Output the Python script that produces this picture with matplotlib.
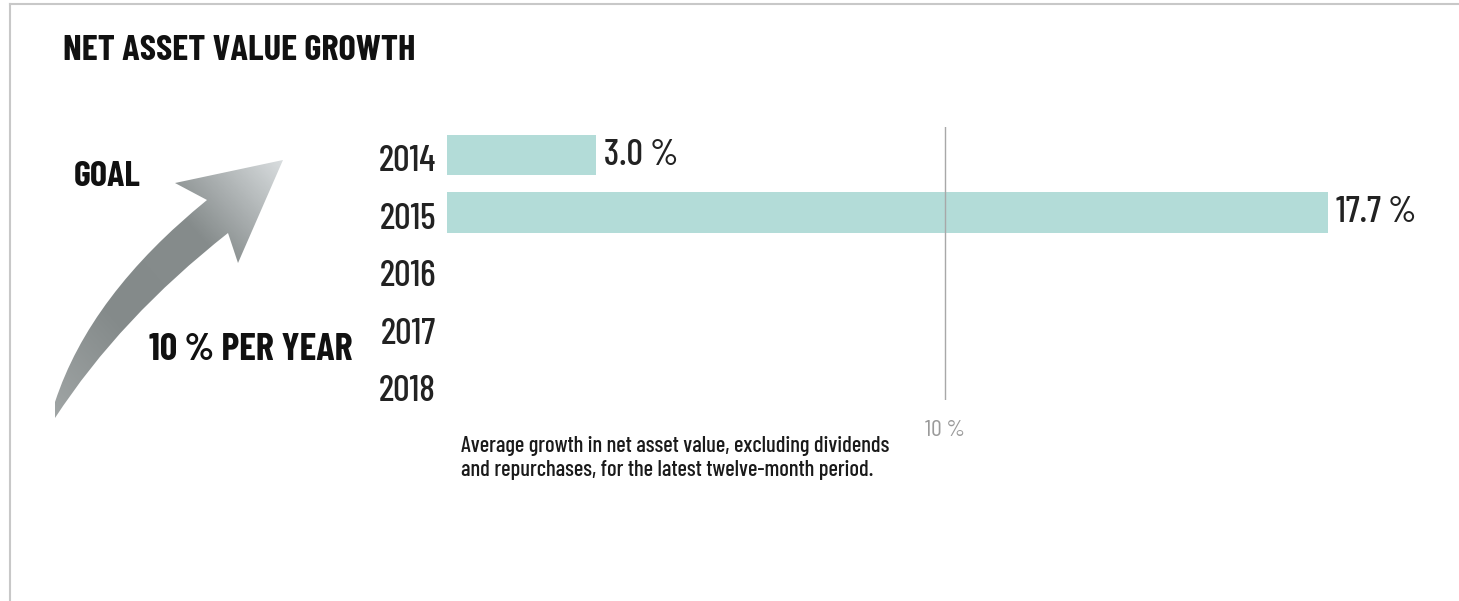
import numpy as np
import matplotlib
matplotlib.use('Agg')
import matplotlib.pyplot as plt
from matplotlib import font_manager
from matplotlib.path import Path
from matplotlib.patches import PathPatch
from matplotlib.colors import LinearSegmentedColormap
from matplotlib.transforms import offset_copy, ScaledTranslation

# data
years = ['2014', '2015', '2016', '2017', '2018']
growth = [3.0, 17.7, None, None, None]
goal = 10.0
title = 'NET ASSET VALUE GROWTH'
goal_top = 'GOAL'
goal_bottom = '10 % PER YEAR'
note = ['Average growth in net asset value, excluding dividends',
        'and repurchases, for the latest twelve-month period.']

W, H = 1459, 601

names = {f.name for f in font_manager.fontManager.ttflist}


def pick(cands):
    for c in cands:
        if c in names:
            return c
    return 'DejaVu Sans'


narrow = pick(['Barlow Condensed', 'Roboto Condensed', 'Fira Sans Condensed'])
plt.rcParams['font.family'] = narrow
REG = 500  # a touch heavier than regular, like the original

fig = plt.figure(figsize=(W / 100, H / 100), dpi=100)
renderer = fig.canvas.get_renderer()


def size_for(s, width, weight=REG):
    # font size that makes the string span the wanted width in pixels
    t = fig.text(0.5, 0.5, s, fontsize=20, family=narrow, fontweight=weight)
    w = t.get_window_extent(renderer).width
    t.remove()
    if w < 1:
        return 20
    return float(np.clip(20 * width / w, 6, 40))


# overlay in pixel coordinates for frame, arrow and free text
oax = fig.add_axes([0, 0, 1, 1], zorder=0)
oax.set_xlim(0, W)
oax.set_ylim(H, 0)
oax.axis('off')

# frame (top and left only)
oax.plot([10, W], [4, 4], color='#c8c8c8', lw=1.5)
oax.plot([10, 10], [4, H], color='#c8c8c8', lw=1.5)

# curved arrow with gradient
verts = [(55, 418), (55, 402), (90, 295), (207, 200), (175, 183), (283, 160),
         (238, 263), (228, 233), (120, 318), (55, 418)]
codes = [Path.MOVETO, Path.LINETO, Path.CURVE3, Path.CURVE3, Path.LINETO, Path.LINETO,
         Path.LINETO, Path.LINETO, Path.CURVE3, Path.CURVE3]
arrow = PathPatch(Path(verts, codes), facecolor='none', edgecolor='none')
oax.add_patch(arrow)
gx, gy = np.meshgrid(np.linspace(0, 1, 200), np.linspace(0, 1, 200))
grad = (gx + gy) / 2
cmap = LinearSegmentedColormap.from_list('arr', ['#a2a7a7', '#848a8a', '#868c8c', '#dfe3e5'])
im = oax.imshow(grad, cmap=cmap, extent=(50, 290, 425, 155), origin='lower', aspect='auto')
im.set_clip_path(arrow)

oax.text(63, 60, title, fontsize=size_for(title, 352, 'bold'),
         fontweight='bold', color='#111111', va='baseline')
oax.text(74, 186, goal_top, fontsize=size_for(goal_top, 67, 'bold'),
         fontweight='bold', color='#111111', va='baseline')
oax.text(149, 360, goal_bottom, fontsize=size_for(goal_bottom, 204, 'bold'),
         fontweight='bold', color='#111111', va='baseline')
fs_note = size_for(note[0], 429)
oax.text(461, 452, note[0], fontsize=fs_note, fontweight=REG, color='#1a1a1a', va='baseline')
oax.text(461, 476, note[1], fontsize=fs_note, fontweight=REG, color='#1a1a1a', va='baseline')

# bar chart
ax = fig.add_axes([447 / W, 1 - 400 / H, 1000 / W, 273 / H], zorder=1)
ax.patch.set_alpha(0)
ax.set_xlim(0, 1000 / 49.8)
ax.set_ylim(4.26, -0.487)
pos = np.arange(len(years))
vals = [v for v in growth if v is not None]
ax.barh(pos[:len(vals)], vals, height=0.71, color='#b3dcd8')
fs_val = size_for('17.7 %', 80)
shift = offset_copy(ax.transData, fig=fig, x=8, y=0, units='dots')
for p, v in zip(pos, vals):
    ax.text(v, p, f'{v:.1f} %', transform=shift, va='center', ha='left',
            fontsize=fs_val, fontweight=REG, color='#222222')
ax.axvline(goal, color='#a8a8a8', lw=1)
ax.text(goal, -0.132, f'{goal:.0f} %', transform=ax.get_xaxis_transform(),
        ha='center', va='baseline', fontsize=size_for('10 %', 40, 'normal'), color='#9a9a9a')
ax.set_yticks(pos)
ax.set_yticklabels(years, fontsize=size_for(years[0], 57), fontweight=REG, color='#222222')
ax.set_xticks([])
ax.tick_params(axis='y', length=0, pad=8)
for lab in ax.get_yticklabels():
    lab.set_transform(lab.get_transform() + ScaledTranslation(0, -3 / 100, fig.dpi_scale_trans))
for s in ax.spines.values():
    s.set_visible(False)
ax.set_xlim(0, 1000 / 49.8)
ax.set_ylim(4.26, -0.487)

fig.savefig('out.png', dpi=100)
